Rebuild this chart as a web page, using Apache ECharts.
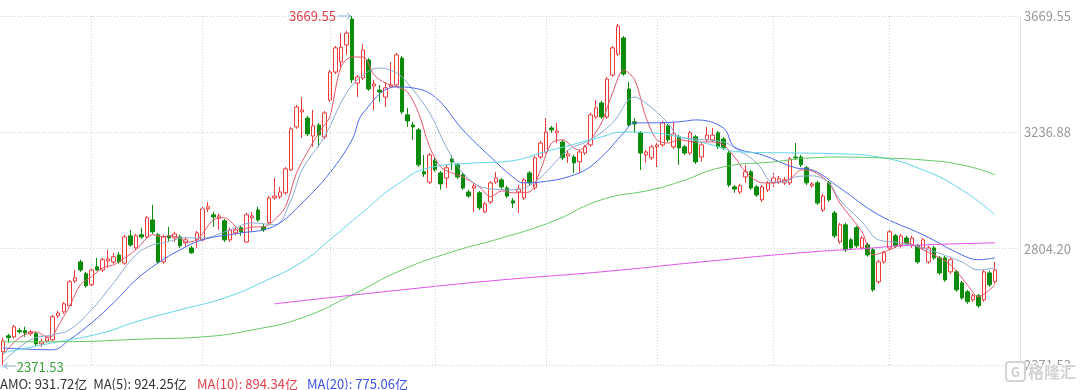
<!DOCTYPE html>
<html><head><meta charset="utf-8">
<script src="https://cdn.jsdelivr.net/npm/echarts/dist/echarts.min.js"></script>
<style>html,body{margin:0;padding:0;background:#fff;}#c{width:1080px;height:390px;}</style>
</head><body><div id="c"></div>
<script>
// ---- data ----
const opens  = [2421,2480,2476,2500,2499,2488,2488,2450,2461,2465,2554,2569,2592,2684,2755,2711,2670,2737,2725,2759,2755,2781,2751,2852,2807,2856,2848,2911,2856,2755,2852,2844,2848,2826,2807,2837,2837,2952,2930,2919,2908,2837,2863,2882,2829,2919,2948,2885,2900,2993,2997,3012,3097,3257,3313,3290,3223,3264,3220,3357,3461,3499,3562,3658,3420,3439,3506,3409,3394,3368,3406,3413,3513,3302,3264,3246,3090,3052,3134,3086,3067,3138,3116,3079,3015,3030,3012,2941,2978,3052,3060,3030,2982,3015,2993,3086,3030,3145,3164,3253,3235,3201,3149,3145,3127,3160,3190,3294,3346,3294,3450,3528,3588,3398,3276,3235,3153,3142,3183,3190,3261,3183,3220,3183,3160,3220,3145,3209,3209,3235,3212,3160,3034,3015,3071,3090,3034,2986,3023,3049,3052,3049,3049,3145,3145,3105,3038,3049,2948,3049,2937,2829,2893,2837,2882,2807,2818,2800,2681,2755,2807,2852,2815,2844,2815,2815,2807,2755,2807,2770,2770,2718,2718,2677,2644,2614,2629,2614,2714,2681];
const closes = [2461,2473,2514,2495,2491,2495,2450,2458,2473,2551,2565,2599,2681,2696,2725,2666,2725,2725,2763,2766,2774,2755,2848,2818,2852,2848,2919,2867,2755,2848,2844,2859,2815,2837,2789,2863,2952,2960,2922,2926,2837,2874,2874,2867,2930,2926,2911,2874,2993,3000,3015,3101,3250,3331,3320,3231,3261,3227,3309,3461,3551,3554,3606,3432,3443,3543,3398,3417,3387,3402,3413,3525,3313,3279,3257,3116,3082,3153,3097,3045,3105,3127,3071,3030,3000,3038,2956,2971,3049,3067,3034,3000,2974,3026,3060,3049,3142,3197,3238,3246,3242,3142,3157,3123,3164,3183,3302,3328,3294,3435,3551,3632,3454,3264,3268,3160,3164,3183,3190,3272,3209,3231,3179,3160,3235,3127,3190,3227,3227,3183,3179,3041,3026,3038,3090,3030,3004,3034,3049,3067,3064,3060,3138,3142,3116,3049,3045,2974,3000,2986,2852,2893,2800,2807,2815,2844,2781,2651,2755,2789,2867,2815,2852,2822,2844,2755,2837,2807,2770,2714,2688,2763,2651,2621,2607,2629,2592,2718,2670,2725];
const lows   = [2371.53,2454,2469,2488,2476,2480,2443,2439,2454,2461,2547,2562,2588,2677,2718,2659,2662,2722,2718,2733,2748,2748,2744,2811,2800,2841,2841,2859,2748,2748,2833,2829,2807,2811,2785,2807,2833,2941,2885,2874,2829,2829,2856,2852,2826,2867,2904,2867,2893,2986,2989,3004,3093,3250,3216,3223,3183,3183,3212,3350,3454,3469,3525,3420,3368,3432,3391,3320,3350,3331,3402,3406,3305,3257,3209,3108,3071,3045,3090,3023,3030,3097,3063,3023,2993,2941,2948,2937,2971,3045,3026,2993,2956,2937,2986,3041,3023,3138,3157,3235,3197,3134,3123,3086,3086,3153,3183,3287,3287,3287,3443,3521,3447,3257,3235,3097,3123,3134,3108,3183,3201,3175,3116,3153,3153,3119,3127,3201,3201,3175,3171,3034,3012,3008,3049,3023,2997,2978,3015,3034,3045,3041,3041,3134,3108,3041,3030,2967,2941,2978,2844,2822,2792,2800,2807,2800,2774,2644,2673,2748,2800,2807,2807,2815,2807,2748,2800,2748,2763,2707,2681,2711,2644,2614,2599,2607,2584,2607,2662,2673];
const highs  = [2473,2488,2521,2510,2514,2502,2495,2469,2480,2558,2573,2606,2688,2725,2763,2718,2733,2770,2770,2800,2789,2792,2856,2874,2859,2882,2926,2967,2863,2856,2885,2867,2856,2848,2815,2870,2960,2978,2941,2934,2915,2882,2885,2889,2937,2941,2960,2896,3000,3067,3034,3108,3257,3339,3368,3298,3320,3272,3316,3469,3558,3606,3614,3669.55,3450,3565,3513,3432,3413,3424,3499,3532,3521,3328,3276,3253,3153,3160,3145,3093,3116,3153,3123,3086,3023,3049,3019,2978,3056,3090,3067,3038,2993,3041,3067,3093,3149,3205,3290,3261,3272,3209,3171,3153,3171,3190,3309,3357,3354,3443,3558,3640,3595,3424,3290,3242,3171,3190,3197,3279,3268,3276,3227,3190,3242,3227,3197,3257,3253,3242,3220,3168,3041,3045,3116,3097,3041,3041,3056,3086,3075,3071,3145,3197,3153,3112,3052,3056,3008,3056,2945,2900,2900,2844,2889,2852,2826,2807,2763,2796,2874,2859,2859,2852,2852,2822,2844,2815,2815,2777,2777,2770,2725,2684,2651,2636,2636,2725,2722,2755];
const emptySlots = 4;
const categories = Array.from({length: opens.length + emptySlots}, (_, i) => 'd' + i);
// moving averages: [category index, value]
const ma5 = [[0,2409],[3,2473],[6,2495],[8,2476],[9,2480],[10,2517],[12,2588],[14,2670],[16,2699],[18,2733],[20,2744],[22,2770],[24,2800],[26,2844],[27,2856],[29,2848],[30,2852],[32,2844],[33,2829],[35,2837],[38,2911],[40,2919],[43,2874],[45,2885],[47,2885],[49,2911],[51,2960],[53,3086],[56,3201],[58,3264],[59,3294],[61,3480],[63,3517],[65,3517],[67,3450],[69,3420],[71,3406],[73,3387],[75,3309],[77,3183],[79,3108],[81,3086],[83,3071],[86,3034],[88,2997],[90,3019],[92,3012],[95,3015],[97,3097],[99,3197],[101,3209],[103,3179],[104,3171],[106,3209],[108,3272],[110,3383],[112,3469],[114,3432],[116,3294],[118,3209],[120,3197],[122,3209],[125,3201],[128,3201],[130,3190],[132,3145],[134,3090],[137,3049],[139,3049],[142,3064],[144,3097],[146,3093],[149,3049],[151,2974],[155,2867],[157,2781],[160,2800],[163,2826],[166,2800],[168,2781],[171,2744],[174,2670],[176,2625],[178,2651],[179,2670]];
const ma10 = [[0,2383],[5,2465],[9,2484],[12,2502],[16,2577],[20,2677],[24,2781],[27,2818],[29,2826],[31,2837],[32,2844],[36,2844],[41,2874],[45,2900],[49,2893],[52,2986],[54,3097],[58,3220],[62,3383],[65,3450],[68,3476],[71,3458],[73,3420],[77,3309],[80,3183],[83,3086],[87,3030],[92,3023],[96,3052],[102,3171],[106,3209],[110,3272],[114,3368],[116,3346],[120,3272],[122,3220],[125,3212],[130,3201],[132,3179],[136,3123],[139,3052],[141,3052],[143,3071],[146,3075],[149,3049],[151,2986],[155,2904],[158,2837],[162,2826],[167,2800],[173,2755],[176,2725],[179,2733]];
const ma20 = [[0,2435],[9,2428],[12,2465],[16,2528],[20,2603],[24,2688],[28,2751],[32,2800],[36,2837],[43,2863],[47,2874],[50,2900],[54,2974],[59,3086],[63,3209],[65,3309],[71,3406],[74,3402],[78,3368],[83,3246],[88,3145],[92,3071],[94,3049],[97,3052],[104,3086],[108,3145],[112,3235],[114,3272],[117,3272],[122,3276],[125,3283],[130,3253],[132,3183],[137,3153],[143,3105],[146,3097],[151,3030],[158,2930],[166,2856],[173,2781],[176,2763],[179,2770]];
const ma60 = [[0,2417],[9,2454],[18,2491],[24,2532],[32,2577],[40,2621],[47,2681],[54,2755],[59,2837],[65,2941],[71,3041],[77,3105],[85,3123],[90,3127],[99,3171],[108,3220],[112,3238],[117,3235],[122,3220],[128,3190],[133,3164],[143,3160],[151,3157],[158,3145],[166,3097],[173,3023],[179,2930]];
const ma120 = [[0,2458],[9,2458],[27,2469],[36,2476],[45,2502],[54,2547],[63,2632],[72,2725],[81,2792],[90,2844],[99,2904],[108,2986],[117,3023],[122,3052],[130,3108],[139,3127],[146,3142],[151,3145],[158,3142],[166,3134],[173,3116],[179,3079]];
const ma250 = [[49,2599],[72,2651],[90,2688],[108,2718],[126,2755],[144,2789],[157,2807],[162,2815],[179,2826]];
const monthStarts = [16,36,59,78,98,118,139,160];
const yMin = 2371.53, yMax = 3669.55;
const footer = [
  {text:'AMO: 931.72亿  MA(5): 924.25亿', color:'#333', x:0},
  {text:'MA(10): 894.34亿', color:'#e8414a', x:197},
  {text:'MA(20): 775.06亿', color:'#3a52e8', x:307}
];

const FONT = '"Noto Sans CJK SC","Noto Sans",sans-serif';
const candles = opens.map((o, i) => [o, closes[i], lows[i], highs[i]]);
const chart = echarts.init(document.getElementById('c'), null, {renderer: 'canvas'});
function maSeries(name, data, color, smooth) {
  return {name, type: 'line', data, showSymbol: false, smooth, silent: true,
    lineStyle: {width: 1, color}, itemStyle: {color}, z: 3};
}
chart.setOption({
  animation: false,
  grid: {left: -2, right: 60, top: 16, bottom: 25},
  xAxis: {type: 'category', data: categories, boundaryGap: true,
    axisLine: {show: false}, axisTick: {show: false}, axisLabel: {show: false}, splitLine: {show: false}},
  yAxis: {type: 'value', position: 'right', min: yMin, max: yMax, interval: (yMax - yMin) / 3,
    axisLine: {show: true, lineStyle: {color: '#e2e2e2'}}, axisTick: {show: false},
    axisLabel: {color: '#9a9a9a', fontSize: 13, margin: 4, fontFamily: FONT, formatter: v => v.toFixed(2)},
    splitLine: {show: true, lineStyle: {color: '#cfcfcf', type: [1, 2]}}},
  series: [
    {type: 'candlestick', data: candles, barWidth: 4, z: 2,
      itemStyle: {color: '#ffffff', color0: '#0a8c0a', borderColor: '#ee3a3a', borderColor0: '#0a8c0a', borderWidth: 1},
      markLine: {silent: true, symbol: ['none', 'none'], label: {show: false},
        lineStyle: {color: '#cfcfcf', type: [1, 2], width: 1},
        data: monthStarts.map(i => ({xAxis: categories[i]}))}},
    maSeries('MA5', ma5, '#e4566a', 0.3),
    maSeries('MA10', ma10, '#8aa9d2', 0.4),
    maSeries('MA20', ma20, '#4a68ee', 0.4),
    maSeries('MA60', ma60, '#5fd6e8', 0.5),
    maSeries('MA120', ma120, '#63c963', 0.5),
    maSeries('MA250', ma250, '#e053ea', 0.5)
  ]
});

// annotations positioned through the chart's own scales
let maxIdx = 0, minIdx = 0;
highs.forEach((h, i) => { if (h > highs[maxIdx]) maxIdx = i; });
lows.forEach((l, i) => { if (l < lows[minIdx]) minIdx = i; });
const pMax = chart.convertToPixel({gridIndex: 0}, [maxIdx, highs[maxIdx]]);
const pMin = chart.convertToPixel({gridIndex: 0}, [minIdx, lows[minIdx]]);
const arrowCol = '#86b3da';
const g = [];
g.push({type: 'text', x: pMax[0] - 16, y: pMax[1], style: {text: highs[maxIdx].toFixed(2), fill: '#e8414a', font: '13px ' + FONT, textAlign: 'right', textVerticalAlign: 'middle'}});
g.push({type: 'polyline', shape: {points: [[pMax[0] - 14, pMax[1]], [pMax[0] - 1, pMax[1]]]}, style: {stroke: arrowCol, lineWidth: 1}});
g.push({type: 'polyline', shape: {points: [[pMax[0] - 5, pMax[1] - 3], [pMax[0] - 1, pMax[1]], [pMax[0] - 5, pMax[1] + 3]]}, style: {stroke: arrowCol, lineWidth: 1, fill: null}});
g.push({type: 'text', x: pMin[0] + 14, y: pMin[1] + 2, style: {text: lows[minIdx].toFixed(2), fill: '#3aa13a', font: '13px ' + FONT, textAlign: 'left', textVerticalAlign: 'middle'}});
g.push({type: 'polyline', shape: {points: [[pMin[0] + 13, pMin[1] + 1], [pMin[0] + 1, pMin[1] + 1]]}, style: {stroke: arrowCol, lineWidth: 1}});
g.push({type: 'polyline', shape: {points: [[pMin[0] + 5, pMin[1] - 2], [pMin[0] + 1, pMin[1] + 1], [pMin[0] + 5, pMin[1] + 4]]}, style: {stroke: arrowCol, lineWidth: 1, fill: null}});
footer.forEach(f => g.push({type: 'text', x: f.x, y: 391, style: {text: f.text, fill: f.color, font: '13px ' + FONT, textAlign: 'left', textVerticalAlign: 'bottom'}}));
// watermark
g.push({type: 'rect', shape: {x: 1006, y: 362, width: 19, height: 19, r: 3}, style: {stroke: '#d4d4d4', lineWidth: 2, fill: 'rgba(255,255,255,0.6)'}, z: 10});
g.push({type: 'text', x: 1015.5, y: 372, style: {text: 'G', fill: '#cfcfcf', font: 'bold 13px ' + FONT, textAlign: 'center', textVerticalAlign: 'middle'}, z: 10});
g.push({type: 'text', x: 1028, y: 372, style: {text: '格隆汇', fill: '#d2d2d2', font: 'bold 16px ' + FONT, textAlign: 'left', textVerticalAlign: 'middle', stroke: '#fff', lineWidth: 2}, z: 10});
chart.setOption({graphic: g});
</script>
</body></html>
